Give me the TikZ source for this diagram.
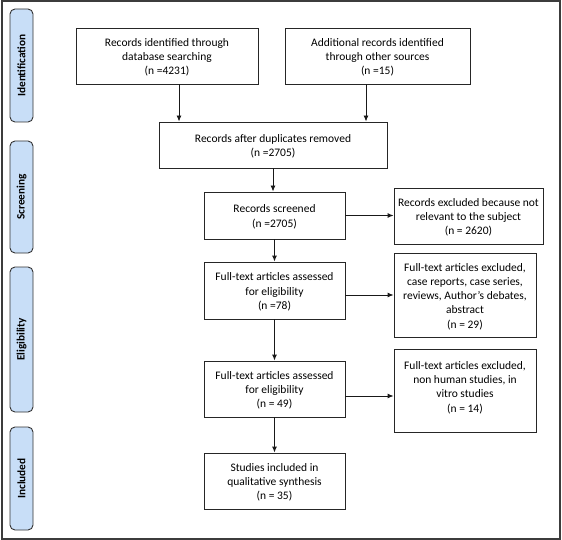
\documentclass[tikz,border=0pt]{standalone}
\usepackage{fontspec}
\setmainfont{Carlito}
\usetikzlibrary{arrows.meta}
\definecolor{sideblue}{RGB}{200,222,247}
\definecolor{frameg}{RGB}{60,60,60}
\newcommand{\mylines}[1]{\begin{tabular}{@{}c@{}}\rule{0pt}{13.5pt}#1\end{tabular}}
\tikzset{
  box/.style={draw=black!85, line width=0.9pt, fill=white, inner sep=0pt,
    font=\fontsize{11.5}{14.3}\selectfont},
  plaintext/.style={inner sep=0pt, font=\fontsize{11.5}{14.3}\selectfont},
  side/.style={draw=black!80, line width=0.9pt, fill=sideblue, rounded corners=5pt,
    minimum width=23pt, inner sep=0pt},
  sidetext/.style={rotate=90, font=\fontsize{11.3}{13}\selectfont\bfseries},
  arr/.style={draw=black!90, line width=0.9pt, -{Latex[length=6pt,width=5pt]}}
}
\begin{document}
\begin{tikzpicture}[x=1pt,y=-1pt]
\useasboundingbox (0,0) rectangle (562,540);
\draw[frameg, line width=2pt] (1.5,1.5) rectangle (560,538.5);
% side labels
\node[side, minimum height=113pt] (s1) at (21.5,65.5) {};
\node[sidetext] (t1) at (s1) {Identification};
\node[side, minimum height=112pt] (s2) at (21.5,197) {};
\node[sidetext] (t2) at (s2) {Screening};
\node[side, minimum height=145pt] (s3) at (21.5,339.5) {};
\node[sidetext] (t3) at (s3) {Eligibility};
\node[side, minimum height=103pt] (s4) at (21.5,478.5) {};
\node[sidetext] (t4) at (s4) {Included};
% boxes
\node[box, minimum width=182pt, minimum height=56pt] (b1) at (167,56)
  {\mylines{Records identified through\\database searching\\(n =4231)}};
\node[box, minimum width=185pt, minimum height=56pt] (b2) at (377.5,56)
  {\mylines{Additional records identified\\through other sources\\(n =15)}};
\node[box, minimum width=228pt, minimum height=46pt] (b3) at (273,145)
  {\mylines{Records after duplicates removed\\(n =2705)}};
\node[box, minimum width=141pt, minimum height=47pt] (b4) at (274.5,215.5)
  {\mylines{Records screened\\(n =2705)}};
\node[box, minimum width=149pt, minimum height=56pt] (b5) at (468.5,216)
  {\mylines{Records excluded because not\\relevant to the subject\\(n = 2620)}};
\node[box, minimum width=141pt, minimum height=57pt] (b6) at (274.5,290.5)
  {\mylines{Full-text articles assessed\\for eligibility\\(n =78)}};
\node[box, minimum width=142pt, minimum height=84pt] (b7) at (465,295)
  {\mylines{Full-text articles excluded,\\case reports, case series,\\reviews, Author’s debates,\\abstract\\(n = 29)}};
\node[box, minimum width=141pt, minimum height=56pt] (b8) at (274.5,389)
  {\mylines{Full-text articles assessed\\for eligibility\\(n = 49)}};
\node[box, minimum width=142pt, minimum height=83pt] (b9) at (465,390.5) {};
\node[plaintext] (b9t) at (465,386)
  {\mylines{Full-text articles excluded,\\non human studies, in\\vitro studies\\(n = 14)}};
\node[box, minimum width=141pt, minimum height=56pt] (b10) at (274.5,481)
  {\mylines{Studies included in\\qualitative synthesis\\(n = 35)}};
% arrows
\coordinate (a1) at (179,0);
\coordinate (a2) at (366,0);
\draw[arr] (a1 |- b1.south) -- (a1 |- b3.north);
\draw[arr] (a2 |- b2.south) -- (a2 |- b3.north);
\draw[arr] (b3.south) -- (b3.south |- b4.north);
\draw[arr] (b4.east) -- (b4.east -| b5.west);
\draw[arr] (b4.south) -- (b6.north);
\draw[arr] ([yshift=-4.5pt]b6.east) -- ([yshift=-4.5pt]b6.east -| b7.west);
\draw[arr] (b6.south) -- (b8.north);
\draw[arr] ([yshift=-7pt]b8.east) -- ([yshift=-7pt]b8.east -| b9.west);
\draw[arr] (b8.south) -- (b10.north);
\end{tikzpicture}
\end{document}
